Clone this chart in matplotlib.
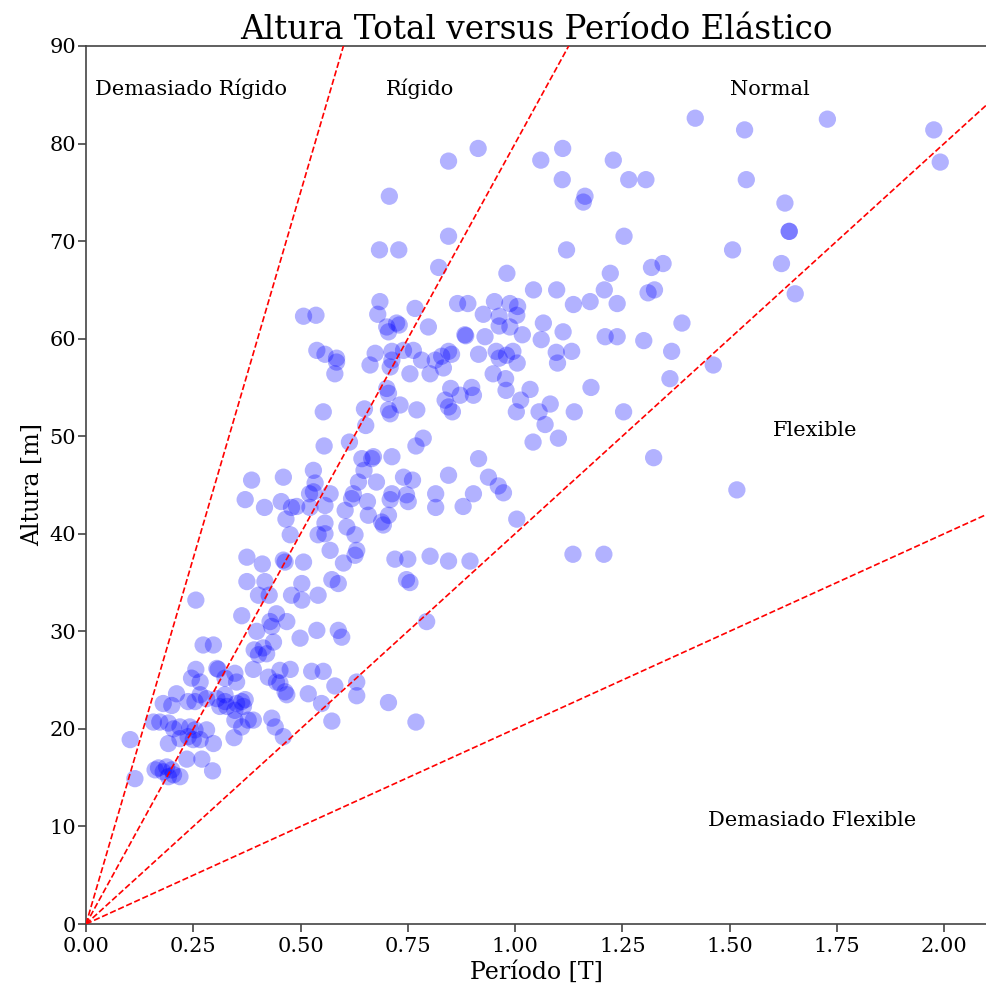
import matplotlib
matplotlib.use("Agg")
import matplotlib.pyplot as plt

plt.rcParams['font.family'] = ['DejaVu Serif']

periodo = [
    1.420, 1.535, 1.728, 1.976, 1.991, 0.845, 0.914, 0.707, 0.845, 0.684,
    0.729, 0.822, 0.981, 1.043, 1.097, 1.060, 1.111, 1.110, 1.120, 1.229,
    1.265, 1.305, 1.539, 1.163, 1.159, 1.629, 1.639, 1.639, 1.254, 1.507,
    1.621, 1.318, 1.345, 1.222, 1.208, 1.310, 1.325, 1.653, 1.389, 1.300,
    1.365, 1.361, 1.462,
    0.866, 0.890, 0.952, 0.988, 1.006, 1.004, 0.926, 0.963, 1.136, 1.175,
    1.238, 0.883, 0.885, 0.930, 0.963, 0.988, 1.017, 1.066, 1.061, 1.112,
    1.210, 1.238, 0.845, 0.852, 0.829, 0.833, 0.814, 0.915, 0.956, 0.963,
    0.995, 1.005, 0.980, 1.096, 1.099, 1.132, 0.949, 0.978, 0.979, 0.850,
    0.899, 0.903, 0.872, 0.837, 0.854, 0.845, 1.035, 1.013, 1.003, 1.056,
    1.082, 1.070, 1.177, 1.138, 1.253, 1.042, 1.101, 0.915, 0.845, 0.938,
    0.961, 1.323, 1.135, 1.207, 1.517,
    0.973, 0.623, 0.619, 0.656, 0.713, 0.709, 0.747, 0.751, 0.815, 0.815,
    0.903, 0.879, 0.604, 0.658, 0.705, 0.693, 0.689, 0.608, 0.627, 0.631,
    0.627, 0.600, 1.004, 0.720, 0.750, 0.802, 0.845, 0.895, 0.747, 0.755,
    0.794, 0.631, 0.631, 0.705, 0.769, 0.573, 0.580,
    0.635, 0.677, 0.740, 0.761, 0.530, 0.460, 0.386, 0.534,
    0.685, 0.680, 0.767, 0.507, 0.536, 0.701, 0.705, 0.724, 0.730, 0.798,
    0.538, 0.557, 0.584, 0.584, 0.580, 0.674, 0.662, 0.713, 0.713, 0.709,
    0.740, 0.763, 0.755, 0.782, 0.802, 0.701, 0.705, 0.705, 0.709, 0.732,
    0.771, 0.553, 0.649, 0.652, 0.786, 0.769, 0.555, 0.614, 0.643, 0.670,
    0.666, 0.648, 0.713,
    0.371, 0.416, 0.455, 0.479, 0.491, 0.521, 0.530, 0.522, 0.569, 0.557,
    0.466, 0.476, 0.557, 0.541, 0.557, 0.569, 0.375, 0.411, 0.460, 0.464,
    0.507, 0.375, 0.417, 0.402, 0.427, 0.479, 0.503, 0.503, 0.541, 0.573,
    0.588, 0.256, 0.363, 0.433, 0.444, 0.468, 0.429, 0.398, 0.499, 0.538,
    0.588, 0.596, 0.273, 0.297,
    0.392, 0.402, 0.413, 0.437, 0.421, 0.256, 0.246, 0.266, 0.308, 0.305,
    0.324, 0.347, 0.351, 0.390, 0.425, 0.452, 0.476, 0.444, 0.452, 0.464,
    0.468, 0.526, 0.553, 0.518, 0.549, 0.266, 0.254, 0.281, 0.238, 0.211,
    0.180, 0.200, 0.305, 0.324, 0.328, 0.351, 0.363, 0.371, 0.367, 0.347,
    0.312, 0.324, 0.378, 0.390, 0.363, 0.347, 0.433, 0.441, 0.460, 0.157,
    0.172, 0.192, 0.204, 0.219, 0.242, 0.254, 0.281, 0.266, 0.250, 0.192,
    0.219, 0.238, 0.297, 0.235, 0.270, 0.295, 0.103, 0.114, 0.169, 0.180,
    0.188, 0.200, 0.192, 0.204, 0.219, 0.161, 0.345,
]

altura = [
    82.6, 81.4, 82.5, 81.4, 78.1, 78.2, 79.5, 74.6, 70.5, 69.1,
    69.1, 67.3, 66.7, 65.0, 65.0, 78.3, 79.5, 76.3, 69.1, 78.3,
    76.3, 76.3, 76.3, 74.6, 74.0, 73.9, 71.0, 71.0, 70.5, 69.1,
    67.7, 67.3, 67.7, 66.7, 65.0, 64.7, 65.0, 64.6, 61.6, 59.8,
    58.7, 55.9, 57.3,
    63.6, 63.6, 63.8, 63.6, 63.3, 62.4, 62.5, 62.3, 63.5, 63.8,
    63.6, 60.4, 60.3, 60.2, 61.3, 61.2, 60.4, 61.6, 59.9, 60.7,
    60.2, 60.2, 58.7, 58.4, 58.2, 57.0, 57.8, 58.4, 58.7, 58.0,
    58.7, 57.5, 58.3, 58.6, 57.5, 58.7, 56.4, 55.9, 54.7, 54.9,
    55.0, 54.2, 54.2, 53.7, 52.5, 53.0, 54.8, 53.7, 52.5, 52.5,
    53.3, 51.2, 55.0, 52.5, 52.5, 49.4, 49.8, 47.7, 46.0, 45.8,
    44.9, 47.8, 37.9, 37.9, 44.5,
    44.2, 44.1, 43.6, 43.3, 44.1, 43.5, 44.0, 43.3, 44.1, 42.7,
    44.1, 42.8, 42.4, 41.9, 41.9, 40.9, 41.2, 40.7, 39.9, 38.3,
    37.8, 37.0, 41.5, 37.4, 37.4, 37.7, 37.2, 37.2, 35.3, 35.0,
    31.0, 24.8, 23.4, 22.7, 20.7, 20.8, 24.4,
    45.3, 45.3, 45.8, 45.5, 46.5, 45.8, 45.5, 45.2,
    63.8, 62.5, 63.1, 62.3, 62.4, 61.2, 60.7, 61.6, 61.4, 61.2,
    58.8, 58.4, 58.0, 57.6, 56.4, 58.5, 57.3, 58.7, 57.8, 57.1,
    58.8, 58.8, 56.4, 57.8, 56.4, 54.9, 54.4, 52.7, 52.3, 53.2,
    52.7, 52.5, 52.8, 51.1, 49.8, 49.0, 49.0, 49.4, 47.7, 47.9,
    47.7, 46.5, 47.9,
    43.5, 42.7, 43.3, 42.7, 42.8, 44.1, 44.3, 42.7, 44.1, 42.9,
    41.5, 39.9, 41.1, 39.9, 40.0, 38.3, 37.6, 36.9, 37.3, 37.1,
    37.1, 35.1, 35.1, 33.7, 33.7, 33.7, 34.9, 33.2, 33.7, 35.3,
    34.9, 33.2, 31.6, 30.5, 31.8, 31.0, 31.0, 30.0, 29.3, 30.1,
    30.1, 29.4, 28.6, 28.6,
    28.1, 27.6, 28.3, 28.9, 27.7, 26.1, 25.2, 24.8, 26.1, 26.2,
    25.2, 25.7, 24.8, 26.1, 25.3, 26.0, 26.1, 24.8, 24.7, 23.8,
    23.5, 25.9, 25.9, 23.6, 22.6, 23.5, 22.8, 23.1, 22.8, 23.6,
    22.6, 22.4, 23.1, 22.8, 22.3, 22.6, 22.8, 23.0, 22.3, 21.9,
    22.3, 23.5, 20.9, 20.9, 20.2, 20.9, 21.1, 20.2, 19.2, 20.7,
    20.7, 20.6, 20.0, 20.2, 20.2, 19.9, 19.9, 18.9, 18.9, 18.5,
    19.0, 19.2, 18.5, 16.9, 16.9, 15.7, 18.9, 14.9, 16.0, 15.6,
    16.1, 15.8, 15.1, 15.3, 15.1, 15.8, 19.1,
]

pendientes = [150, 80, 40, 20]
zonas = ["Demasiado Rígido", "Rígido", "Normal", "Flexible", "Demasiado Flexible"]
zonas_x = [0.02, 0.70, 1.50, 1.60, 1.45]
zonas_y = [85, 85, 85, 50, 10]

fig = plt.figure(figsize=(9.87, 9.94), dpi=100)
ax = fig.add_axes([86/987, 1 - 924/994, 1 - 86/987, (924 - 46)/994])

ax.scatter(periodo, altura, s=155, color='blue', alpha=0.3, edgecolors='none', zorder=2)

for m in pendientes:
    ax.plot([0, 2.1], [0, m * 2.1], linestyle='--', color='red', linewidth=1.2, zorder=3)

for t, x, y in zip(zonas, zonas_x, zonas_y):
    ax.text(x, y, t, fontsize=15)

ax.set_xlim(0, 2.1)
ax.set_ylim(0, 90)
ax.set_xticks([0, 0.25, 0.5, 0.75, 1.0, 1.25, 1.5, 1.75, 2.0])
ax.set_xticklabels(["0.00", "0.25", "0.50", "0.75", "1.00", "1.25", "1.50", "1.75", "2.00"])
ax.set_yticks(range(0, 91, 10))
ax.tick_params(labelsize=15, length=6, width=1.2, color='#444444')
ax.tick_params(axis='y', pad=1)
for s in ['left', 'bottom', 'top']:
    ax.spines[s].set_color('#444444')
    ax.spines[s].set_linewidth(1.2)
ax.spines['right'].set_visible(False)
ax.set_xlabel("Período [T]", fontsize=17, labelpad=3)
ax.set_ylabel("Altura [m]", fontsize=17, labelpad=4)
ax.set_title("Altura Total versus Período Elástico", fontsize=23.5, pad=5)

fig.savefig("out.png", dpi=100)
